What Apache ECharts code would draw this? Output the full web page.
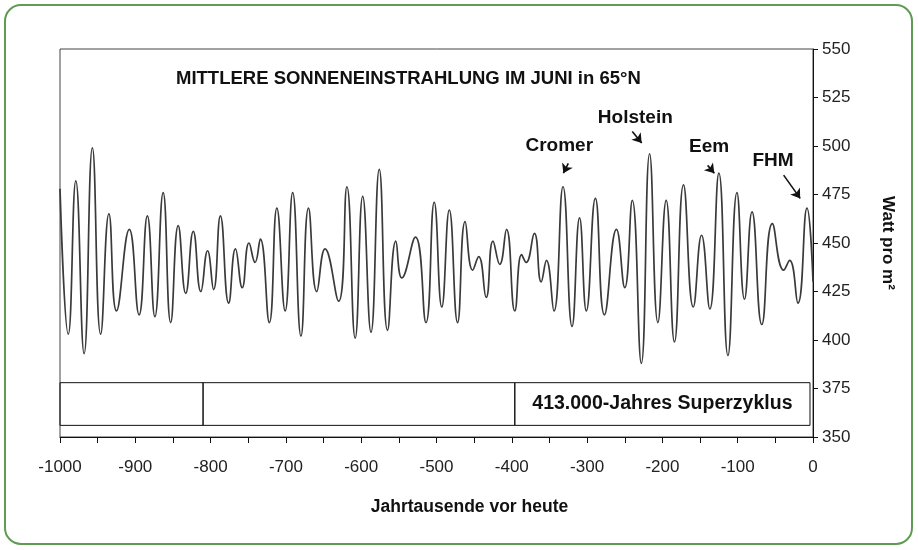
<!DOCTYPE html>
<html>
<head>
<meta charset="utf-8">
<script src="https://cdn.jsdelivr.net/npm/echarts@6/dist/echarts.min.js"></script>
<style>
html,body{margin:0;padding:0;background:#fff;}
#chart{width:918px;height:550px;}
</style>
</head>
<body>
<div id="chart"></div>
<script>
// Extrema of the insolation curve (thousand years before present, W/m²)
const years = [-1000,-989,-979,-968,-957,-946,-935,-925,-908,-895,-884,-874,-863,-853,-843,-833,-823,-813,-804,-796,-787,-776,-767,-758,-749,-741,-734,-722,-712,-701,-691,-680,-670,-659,-648,-630,-619,-608,-598,-587,-576,-565,-554,-546,-528,-514,-503,-493,-483,-472,-462,-452,-444,-434,-425,-416,-407,-396,-387,-381,-370,-361,-354,-344,-332,-320,-310,-301,-289,-277,-261,-250,-240,-228,-217,-206,-195,-184,-172,-159,-148,-137,-125,-113,-101,-91,-81,-68,-54,-39,-31,-20,-8,0];
const insolation = [478,403,482,393,499,403,465,415,457,413,464,412,476,409,459,424,456,425,446,426,464,419,447,427,450,440,452,409,468,415,476,402,468,425,447,420,479,401,474,404,488,405,451,432,453,409,471,417,467,409,461,436,443,422,451,439,457,415,444,440,455,430,441,415,479,407,463,415,473,413,457,427,472,388,496,409,472,399,480,417,454,416,486,392,476,421,466,408,460,436,441,419,468,430];

const xTicks = {min:-1000, max:0, step:100};
const yTicks = {min:350, max:550, step:25};

// 413.000-year supercycle band segments [startYear, endYear]
const cycleSegments = [[-1000,-810],[-810,-396],[-396,-4]];
const cycleBand = [356, 378];
const cycleLabel = '413.000-Jahres Superzyklus';

// Annotated interglacials: label, arrow start [year, value], arrow end [year, value]
const annotNames = ['Cromer','Holstein','Eem','FHM'];
const arrowFrom = [[-325,491],[-240,507.5],[-140,490],[-39,485]];
const arrowTo   = [[-331.5,486],[-227.5,501.5],[-131,486],[-17,473]];
const labelPos  = [[-337,500],[-236,514.5],[-138,499.5],[-53,492.3]];

const chart = echarts.init(document.getElementById('chart'));
const font = 'Liberation Sans, Arial, sans-serif';

const data = years.map((y,i)=>[y, insolation[i]]);

const areaData = cycleSegments.map((s,i)=>[
  {coord:[s[0], cycleBand[0]], label: i===cycleSegments.length-1 ? {show:true, formatter:cycleLabel} : {show:false}},
  {coord:[s[1], cycleBand[1]]}
]);

const arrowData = arrowFrom.map((f,i)=>[
  {coord:f, symbol:'none'},
  {coord:arrowTo[i], symbol:'arrow'}
]);

const annotData = annotNames.map((n,i)=>({
  name:n, coord:labelPos[i], value:n
}));

chart.setOption({
  animation:false,
  backgroundColor:'#fff',
  title:{
    text:'MITTLERE SONNENEINSTRAHLUNG IM JUNI in 65°N',
    left:171, top:64,
    textStyle:{fontFamily:font, fontWeight:'bold', fontSize:18.5, color:'#111'}
  },
  graphic:[{
    type:'rect', z:-1,
    shape:{x:5, y:5, width:907, height:539, r:16},
    style:{fill:'none', stroke:'#5f9b52', lineWidth:2}
  }],
  grid:{left:60, right:105, top:49, bottom:113, show:true, borderColor:'#444', borderWidth:1, backgroundColor:'#fff'},
  xAxis:{
    type:'value', min:xTicks.min, max:xTicks.max, interval:xTicks.step,
    name:'Jahrtausende vor heute', nameLocation:'middle', nameGap:61,
    nameTextStyle:{fontFamily:font, fontWeight:'bold', fontSize:17.5, color:'#111', padding:[0,0,0,66]},
    axisLine:{show:true, lineStyle:{color:'#111', width:1}},
    axisTick:{show:true, length:6, lineStyle:{color:'#111'}},
    minorTick:{show:true, splitNumber:2, length:6, lineStyle:{color:'#111'}},
    axisLabel:{fontFamily:font, fontSize:17, color:'#222', margin:22, formatter:v=>String(v)},
    splitLine:{show:false}
  },
  yAxis:{
    type:'value', position:'right', min:yTicks.min, max:yTicks.max, interval:yTicks.step,
    name:'Watt pro m²', nameLocation:'middle', nameGap:66, nameRotate:-90,
    nameTextStyle:{fontFamily:font, fontWeight:'bold', fontSize:17, color:'#111'},
    axisLine:{show:true, lineStyle:{color:'#111', width:1}},
    axisTick:{show:true, length:5, lineStyle:{color:'#111'}},
    axisLabel:{fontFamily:font, fontSize:17, color:'#222', margin:9},
    splitLine:{show:false}
  },
  series:[{
    type:'line',
    data:data,
    smooth:0.5,
    symbol:'none',
    lineStyle:{color:'#3a3a3a', width:1.7},
    markArea:{
      silent:true,
      itemStyle:{color:'rgba(0,0,0,0)', borderColor:'#111', borderWidth:1},
      label:{position:'inside', fontFamily:font, fontWeight:'bold', fontSize:19.5, color:'#111'},
      data:areaData
    },
    markLine:{
      silent:true,
      symbolSize:9,
      lineStyle:{color:'#111', width:1.6, type:'solid'},
      label:{show:false},
      data:arrowData
    },
    markPoint:{
      silent:true,
      symbol:'circle', symbolSize:1,
      itemStyle:{color:'rgba(0,0,0,0)'},
      label:{show:true, position:'inside', fontFamily:font, fontWeight:'bold', fontSize:19, color:'#111', formatter:'{b}'},
      data:annotData
    }
  }]
});
</script>
</body>
</html>
